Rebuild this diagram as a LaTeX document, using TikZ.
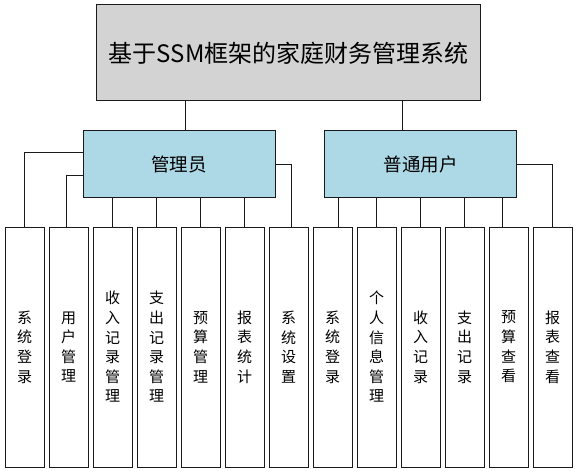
\documentclass[tikz,border=0pt]{standalone}
\usepackage{fontspec}
\setmainfont{Noto Sans CJK SC}
\definecolor{titlegray}{HTML}{D3D3D3}
\definecolor{rolebl}{HTML}{ADD8E6}
\definecolor{edgec}{HTML}{1A1A1A}
\begin{document}
\begin{tikzpicture}[x=1pt,y=-1pt,
  box/.style={draw=edgec,line width=1pt,rectangle,inner sep=0pt,outer sep=0pt,align=center},
  titlebox/.style={box,fill=titlegray,minimum width=384pt,minimum height=96pt,font=\fontsize{24}{29}\selectfont},
  rolebox/.style={box,fill=rolebl,minimum width=192.3pt,minimum height=67.4pt,font=\fontsize{18.5}{22}\selectfont},
  leafbox/.style={box,fill=white,minimum width=39pt,minimum height=240pt,font=\fontsize{15}{19.6}\selectfont},
  conn/.style={draw=edgec,line width=1pt}]
\useasboundingbox (0,0) rectangle (577,473);
\node[titlebox] (title) at (288.7,53) {基于SSM框架的家庭财务管理系统};
\node[rolebox] (admin) at (179.2,164) {管理员};
\node[rolebox] (user) at (420.5,164) {普通用户};
\node[leafbox] (l1) at (24.5,347) {系\\统\\登\\录};
\node[leafbox] (l2) at (68.5,347) {用\\户\\管\\理};
\node[leafbox] (l3) at (112.5,347) {收\\入\\记\\录\\管\\理};
\node[leafbox] (l4) at (156.5,347) {支\\出\\记\\录\\管\\理};
\node[leafbox] (l5) at (200.5,347) {预\\算\\管\\理};
\node[leafbox] (l6) at (244.5,347) {报\\表\\统\\计};
\node[leafbox] (l7) at (288.5,347) {系\\统\\设\\置};
\node[leafbox] (l8) at (332.5,347) {系\\统\\登\\录};
\node[leafbox] (l9) at (376.5,347) {个\\人\\信\\息\\管\\理};
\node[leafbox] (l10) at (420.5,347) {收\\入\\记\\录};
\node[leafbox] (l11) at (464.5,347) {支\\出\\记\\录};
\node[leafbox] (l12) at (508.5,347) {预\\算\\查\\看};
\node[leafbox] (l13) at (552.5,347) {报\\表\\查\\看};
% title to roles
\draw[conn] ([xshift=6.5pt]admin.north) -- ([xshift=6.5pt]admin.north |- title.south);
\draw[conn] ([xshift=-17.8pt]user.north) -- ([xshift=-17.8pt]user.north |- title.south);
% admin children
\draw[conn] ([yshift=12pt]admin.west) -| ([xshift=-0.5pt]l1.north);
\draw[conn] ([yshift=-11pt]admin.west) -| ([xshift=-2.5pt]l2.north);
\foreach \n in {l3,l4,l5,l6}{
  \draw[conn] (\n.north) -- (\n.north |- admin.south);
}
\draw[conn] ([yshift=-0.7pt]admin.east) -| ([xshift=3pt]l7.north);
% user children
\draw[conn] ([xshift=5.5pt]l8.north) -- ([xshift=5.5pt]l8.north |- user.south);
\foreach \n in {l9,l10,l11}{
  \draw[conn] (\n.north) -- (\n.north |- user.south);
}
\draw[conn] ([xshift=-6pt]l12.north) -- ([xshift=-6pt]l12.north |- user.south);
\draw[conn] ([yshift=-0.7pt]user.east) -| (l13.north);
\end{tikzpicture}
\end{document}
